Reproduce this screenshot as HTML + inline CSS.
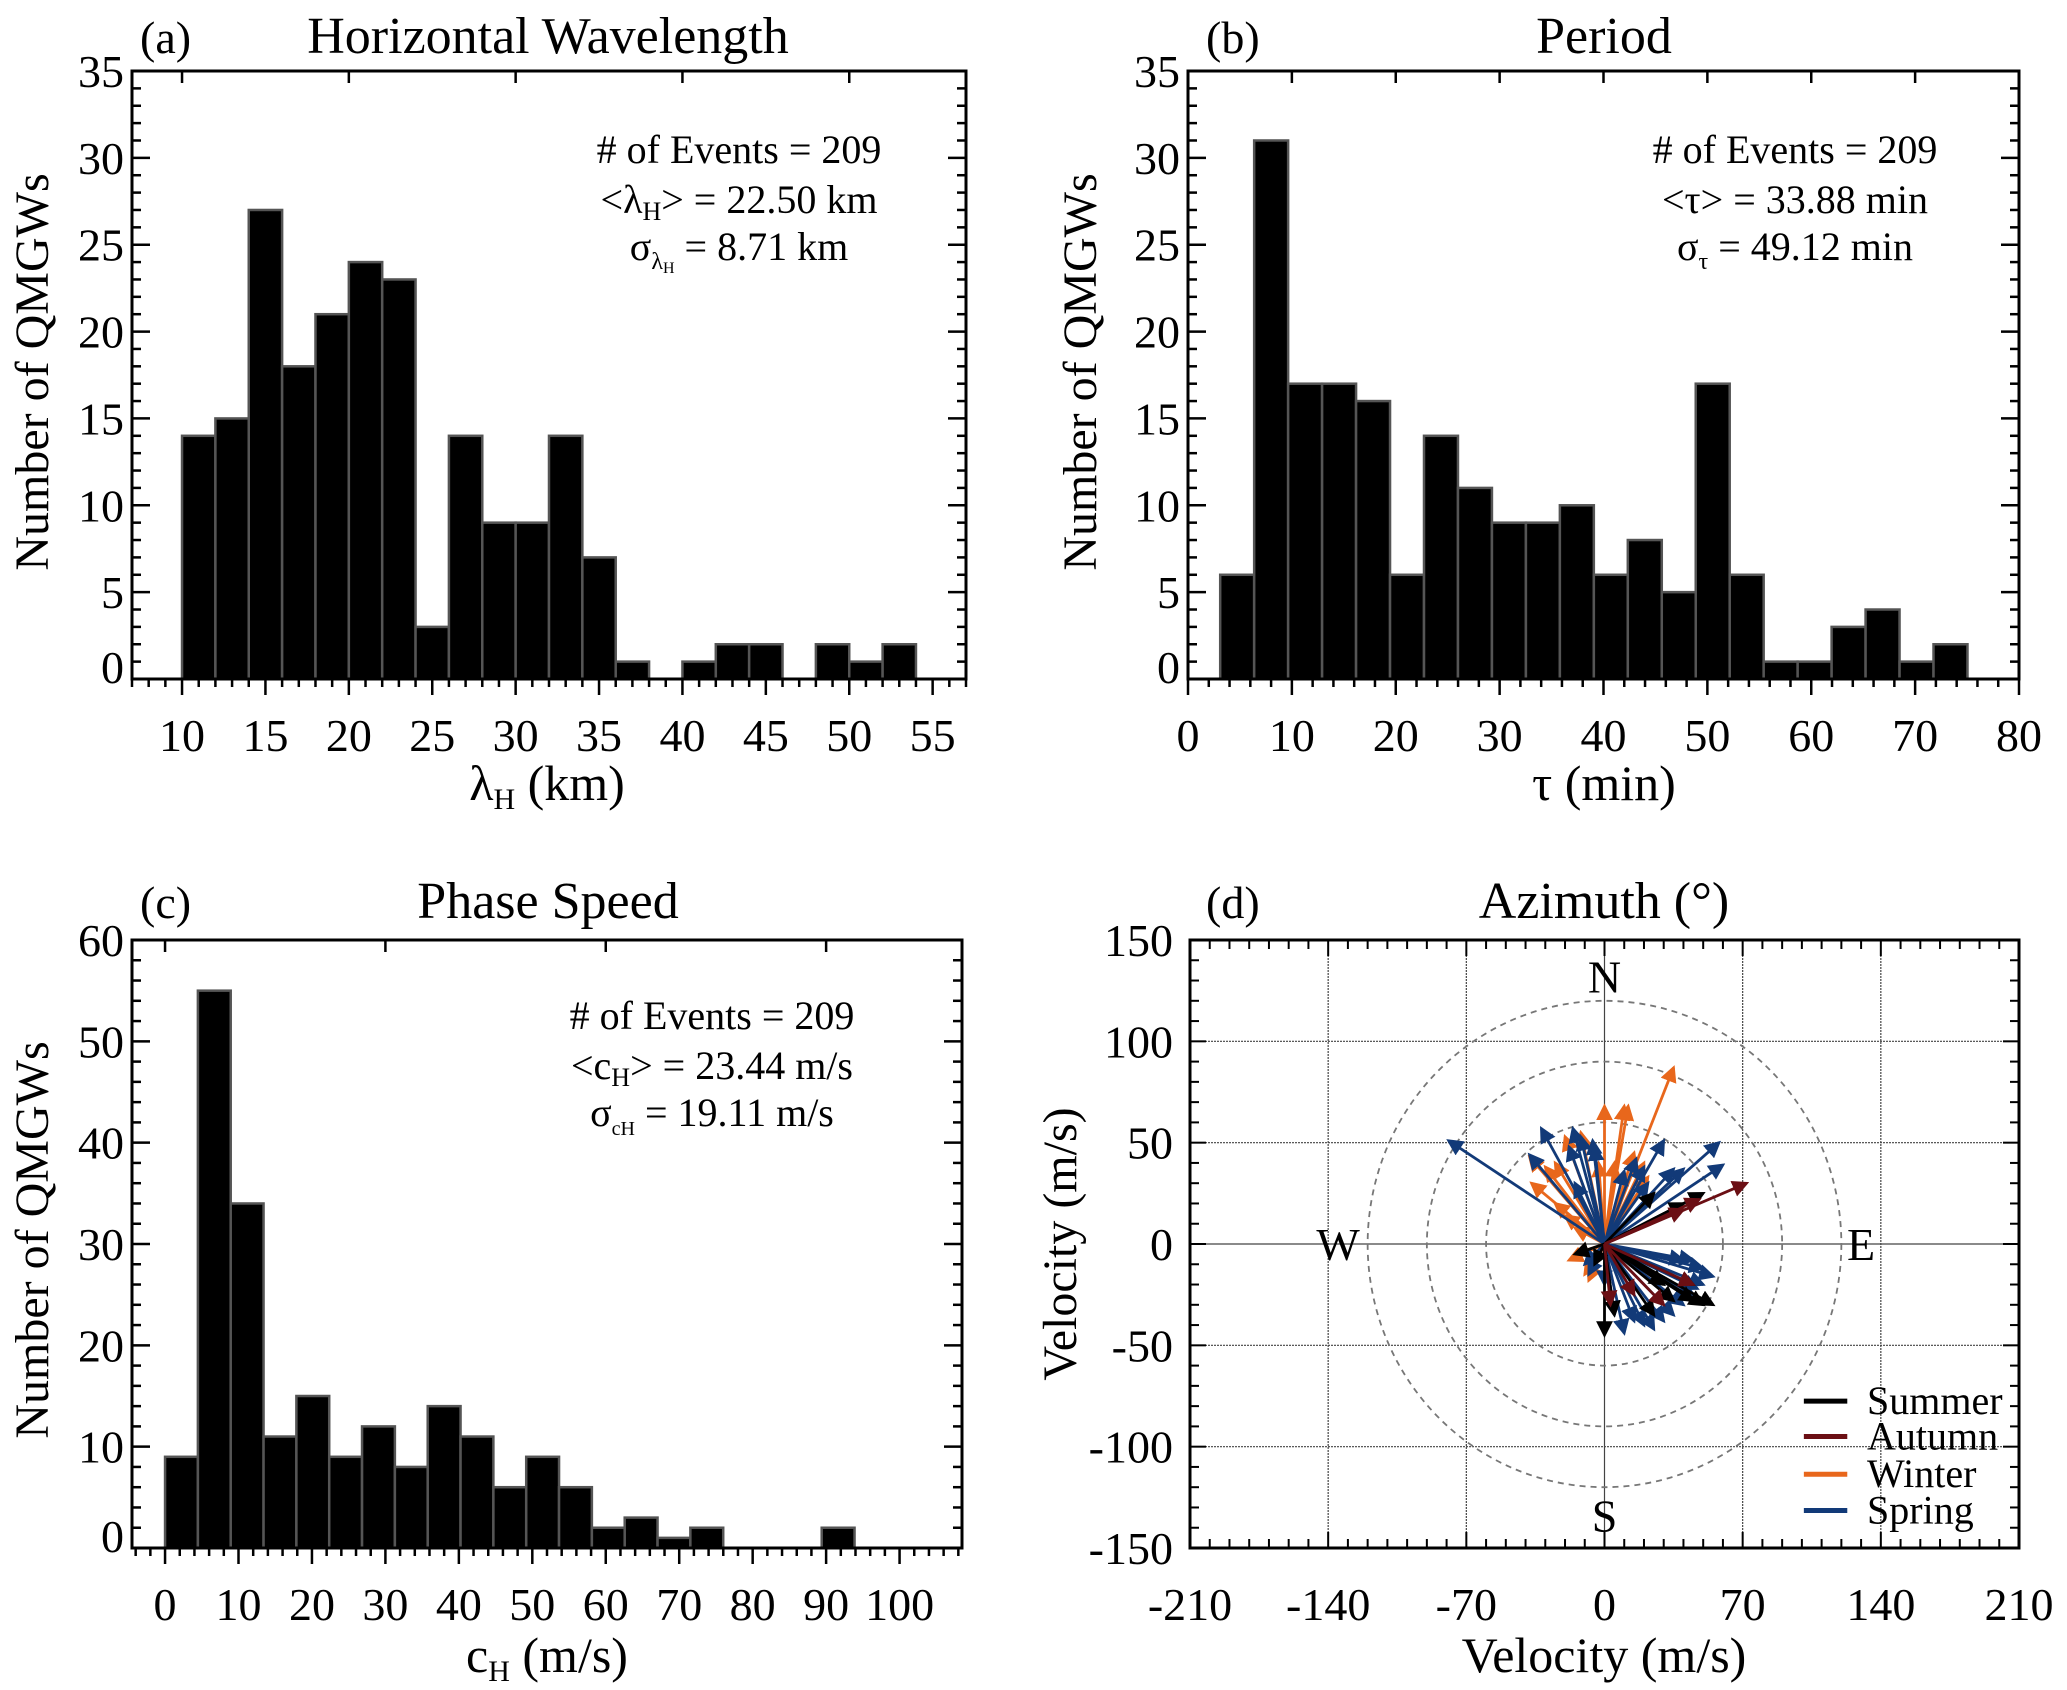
<!DOCTYPE html>
<html><head><meta charset="utf-8"><style>
html,body{margin:0;padding:0;background:#fff}
svg{display:block;font-family:"Liberation Serif",serif}
</style></head><body>
<svg id="fig" width="2067" height="1690" viewBox="0 0 2067 1690" xmlns="http://www.w3.org/2000/svg">
<defs>
<marker id="hk" markerWidth="6" markerHeight="6" refX="5" refY="3" orient="auto" markerUnits="strokeWidth"><path d="M0,0 L6,3 L0,6 z" fill="#000"/></marker>
<marker id="hr" markerWidth="6" markerHeight="6" refX="5" refY="3" orient="auto" markerUnits="strokeWidth"><path d="M0,0 L6,3 L0,6 z" fill="#6b0f14"/></marker>
<marker id="ho" markerWidth="6" markerHeight="6" refX="5" refY="3" orient="auto" markerUnits="strokeWidth"><path d="M0,0 L6,3 L0,6 z" fill="#e8671c"/></marker>
<marker id="hb" markerWidth="6" markerHeight="6" refX="5" refY="3" orient="auto" markerUnits="strokeWidth"><path d="M0,0 L6,3 L0,6 z" fill="#123a78"/></marker>
</defs>
</svg>
<script>
// ---- data ----
const aEdgeStart = 10, aBinWidth = 2;
const aCounts = [14,15,27,18,21,24,23,3,14,9,9,14,7,1,0,1,2,2,0,2,1,2];
const aTicks = [10,15,20,25,30,35,40,45,50,55];
const bEdgeStart = 3.1, bBinWidth = 3.27;
const bCounts = [6,31,17,17,16,6,14,11,9,9,10,6,8,5,17,6,1,1,3,4,1,2];
const bTicks = [0,10,20,30,40,50,60,70,80];
const cEdgeStart = 0, cBinWidth = 4.47;
const cCounts = [9,55,34,11,15,9,12,8,14,11,6,9,6,2,3,1,2,0,0,0,2];
const cTicks = [0,10,20,30,40,50,60,70,80,90,100];
const abYTicks = [0,5,10,15,20,25,30,35];
const cYTicks = [0,10,20,30,40,50,60];
const dXTicks = [-210,-140,-70,0,70,140,210];
const dYTicks = [-150,-100,-50,0,50,100,150];
const dRings = [60,90,120];
const springU = [-79,-32,-16,-12,-6,-38,-18,30,58,60,35,16,20,10,-15,40,22,55,45,40,47,50,40,35,30,20,10,15,5,25,45,-8,-10,-5,0,50];
const springV = [51,57,57,53,51,44,48,51,50,39,37,42,38,36,30,37,30,-16,-8,-8,-22,-20,-30,-35,-38,-40,-44,-38,-35,-42,-25,-15,-10,48,-20,-12];
const winterU = [35,0,10,12,-3,-20,-12,-37,-30,-38,-25,-20,-15,20,22,15,5,-10,-8,-15,-18,-25];
const winterV = [87,68,68,68,40,53,55,30,38,43,20,14,8,40,33,45,40,-15,-18,-5,-8,40];
const summerU = [50,25,40,0,45,50,55,45,30,35,5,-15,25,-5];
const summerV = [25,25,20,-45,-20,-30,-30,-28,-20,-28,-35,-5,-35,-10];
const autumnU = [72,40,45,30,3,15,48];
const autumnV = [30,17,-20,-30,-30,-25,22];

const NS='http://www.w3.org/2000/svg';
const svg=document.getElementById('fig');
function el(tag,attrs,parent){const e=document.createElementNS(NS,tag);for(const k in attrs)e.setAttribute(k,attrs[k]);(parent||svg).appendChild(e);return e;}
function txt(s,x,y,size,anchor,parent){const t=el('text',{x:x,y:y,'font-size':size,'text-anchor':anchor||'middle',fill:'#000'},parent);t.textContent=s;return t;}
const TF=46;

function histPanel(id,box,xr,yr,edge0,bw,counts,xt,xMinor,yt,yMinor,topTicks){
  const g=el('g',{});
  
  
  const X=v=>box.l+(v-xr[0])/(xr[1]-xr[0])*(box.r-box.l);
  const Y=v=>box.b-(v-yr[0])/(yr[1]-yr[0])*(box.b-box.t);
  counts.forEach((c,i)=>{
    if(c<=0)return;
    const x0=X(edge0+i*bw),x1=X(edge0+(i+1)*bw);
    const r=el('rect',{x:x0,y:Y(c),width:x1-x0,height:Y(0)-Y(c),fill:'#000',stroke:'#555','stroke-width':2.5},g);
    
    
  });
  el('rect',{x:box.l,y:box.t,width:box.r-box.l,height:box.b-box.t,fill:'none',stroke:'#000','stroke-width':3},g);
  for(let v=Math.ceil(xr[0]/xMinor)*xMinor;v<=xr[1];v+=xMinor){
    const major=xt.some(t=>Math.abs(t-v)<1e-6);
    el('line',{x1:X(v),x2:X(v),y1:box.b,y2:box.b+(major?16:8),stroke:'#000','stroke-width':2.5},g);
  }
  topTicks.forEach(v=>el('line',{x1:X(v),x2:X(v),y1:box.t,y2:box.t+12,stroke:'#000','stroke-width':2.5},g));
  for(let v=yr[0];v<=yr[1]+1e-6;v+=yMinor){
    const major=yt.some(t=>Math.abs(t-v)<1e-6);
    const L=major?18:9;
    el('line',{x1:box.l,x2:box.l+L,y1:Y(v),y2:Y(v),stroke:'#000','stroke-width':2.5},g);
    el('line',{x1:box.r,x2:box.r-L,y1:Y(v),y2:Y(v),stroke:'#000','stroke-width':2.5},g);
  }
  xt.forEach(v=>{const t=txt(String(v),X(v),box.b+72,TF,'middle',g);});
  yt.forEach(v=>{const yy=(v===yr[0]?Y(v)-12:Y(v))+16;const t=txt(String(v),box.l-8,yy,TF,'end',g);});
  return g;
}

histPanel('wavelength',{l:132,r:966,t:71,b:679},[7,57],[0,35],aEdgeStart,aBinWidth,aCounts,aTicks,1,abYTicks,1,[10,20,30,40,50]);
histPanel('period',{l:1188,r:2019,t:71,b:679},[0,80],[0,35],bEdgeStart,bBinWidth,bCounts,bTicks,2,abYTicks,1,[10,20,30,40,50,60,70]);
histPanel('phase-speed',{l:132,r:962,t:940,b:1548},[-4.5,108.5],[0,60],cEdgeStart,cBinWidth,cCounts,cTicks,2,cYTicks,2,[0,30,60,90]);

// ---- Azimuth panel ----
(function(){
  const box={l:1190,r:2019,t:940,b:1548};
  const g=el('g',{});
  
  
  const X=v=>box.l+(v+210)/420*(box.r-box.l);
  const Y=v=>box.b-(v+150)/300*(box.b-box.t);
  dXTicks.forEach(v=>{ if(v>-210&&v<210) el('line',{x1:X(v),x2:X(v),y1:box.t,y2:box.b,stroke:'#444','stroke-width':1.2,'stroke-dasharray':v===0?'none':'2,1'},g);});
  dYTicks.forEach(v=>{ if(v>-150&&v<150) el('line',{x1:box.l,x2:box.r,y1:Y(v),y2:Y(v),stroke:'#444','stroke-width':1.2,'stroke-dasharray':v===0?'none':'2,1'},g);});
  dRings.forEach(r=>{const c=el('ellipse',{cx:X(0),cy:Y(0),rx:X(r)-X(0),ry:Y(0)-Y(r),fill:'none',stroke:'#777','stroke-width':1.8,'stroke-dasharray':'6,5'},g);});
  txt('N',X(0),Y(132)+16,TF,'middle',g);
  txt('S',X(0),Y(-134)+16,TF,'middle',g);
  txt('W',X(-135),Y(0)+16,TF,'middle',g);
  txt('E',X(130),Y(0)+16,TF,'middle',g);
  const order=[[winterU,winterV,'#e8671c','ho'],[springU,springV,'#123a78','hb'],[summerU,summerV,'#000','hk'],[autumnU,autumnV,'#6b0f14','hr']];
  order.forEach(s=>{
    s[0].forEach((u,i)=>{
      const a=el('line',{x1:X(0),y1:Y(0),x2:X(u),y2:Y(s[1][i]),stroke:s[2],'stroke-width':2.8,'marker-end':'url(#'+s[3]+')'},g);
      
      
    });
  });
  el('rect',{x:box.l,y:box.t,width:box.r-box.l,height:box.b-box.t,fill:'none',stroke:'#000','stroke-width':3},g);
  for(let v=-210;v<=210;v+=10){const major=v%70===0;
    el('line',{x1:X(v),x2:X(v),y1:box.b,y2:box.b-(major?16:9),stroke:'#000','stroke-width':2},g);
    el('line',{x1:X(v),x2:X(v),y1:box.t,y2:box.t+(major?16:9),stroke:'#000','stroke-width':2},g);}
  for(let v=-150;v<=150;v+=10){const major=v%50===0;
    el('line',{x1:box.l,x2:box.l+(major?16:9),y1:Y(v),y2:Y(v),stroke:'#000','stroke-width':2},g);
    el('line',{x1:box.r,x2:box.r-(major?16:9),y1:Y(v),y2:Y(v),stroke:'#000','stroke-width':2},g);}
  dXTicks.forEach(v=>{const t=txt(String(v),X(v),1620,TF,'middle',g);});
  dYTicks.forEach(v=>{const t=txt(String(v),1173,Y(v)+16,TF,'end',g);});
  const names=['Summer','Autumn','Winter','Spring'],cols=['#000','#6b0f14','#e8671c','#123a78'],ly=[-77.5,-95,-113.6,-131.5];
  names.forEach((n,i)=>{
    const li=el('line',{x1:X(101),x2:X(123),y1:Y(ly[i]),y2:Y(ly[i]),stroke:cols[i],'stroke-width':5},g);
    
    
    const t=txt(n,X(133),Y(ly[i])+13,40,'start',g);
    
    
  });
})();
</script>
<script>
// static text overlay
const T=[
 ['(a)',140,53,46,'start','panel-a-label'],['Horizontal Wavelength',548,53,52,'middle','panel-a-title'],
 ['(b)',1206,53,46,'start','panel-b-label'],['Period',1604,53,52,'middle','panel-b-title'],
 ['(c)',140,918,46,'start','panel-c-label'],['Phase Speed',548,918,52,'middle','panel-c-title'],
 ['(d)',1206,918,46,'start','panel-d-label'],['Azimuth (°)',1604,918,52,'middle','panel-d-title'],
 ['Velocity (m/s)',1604,1672,50,'middle','d-x-axis-title'],
 ['# of Events = 209',739,163,40,'middle','a-events'],
 ['# of Events = 209',1795,163,40,'middle','b-events'],
 ['# of Events = 209',712,1029,40,'middle','c-events']
];
T.forEach(d=>{const t=txt(d[0],d[1],d[2],d[3],d[4]);});
function rich(parts,x,y,size,name,anchor,rot){
  const t=el('text',{x:x,y:y,'font-size':size,'text-anchor':anchor||'middle',fill:'#000'});
  if(rot)t.setAttribute('transform',rot);
  
  
  parts.forEach(p=>{const s=el('tspan',{},t);s.textContent=p[0];if(p[1]){s.setAttribute('font-size',p[1]);s.setAttribute('baseline-shift',p[2]);}});
  return t;
}
rich([['<λ'],['H',26,'-7'],['> =  22.50 km']],739,213,40,'a-mean');
rich([['σ'],['λ',24,'-9'],['H',16,'-13'],['   =   8.71 km']],739,260,40,'a-std');
rich([['<τ> =  33.88 min']],1795,213,40,'b-mean');
rich([['σ'],['τ',24,'-9'],['   =  49.12 min']],1795,260,40,'b-std');
rich([['<c'],['H',26,'-7'],['> =  23.44 m/s']],712,1079,40,'c-mean');
rich([['σ'],['cH',20,'-9'],['  =  19.11 m/s']],712,1126,40,'c-std');
rich([['λ'],['H',30,'-9'],[' (km)']],547,800,50,'a-x-axis-title');
rich([['τ (min)']],1604,800,50,'b-x-axis-title');
rich([['c'],['H',30,'-9'],[' (m/s)']],547,1672,50,'c-x-axis-title');
rich([['Number of QMGWs']],0,0,48,'a-y-axis-title','middle','translate(48,372) rotate(-90)');
rich([['Number of QMGWs']],0,0,48,'b-y-axis-title','middle','translate(1096,372) rotate(-90)');
rich([['Number of QMGWs']],0,0,48,'c-y-axis-title','middle','translate(48,1240) rotate(-90)');
rich([['Velocity (m/s)']],0,0,48,'d-y-axis-title','middle','translate(1076,1244) rotate(-90)');
</script>
</body></html>
